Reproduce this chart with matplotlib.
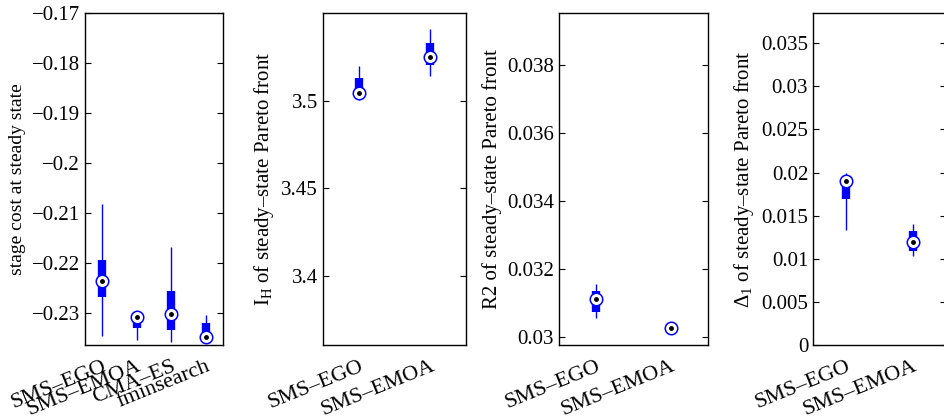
import matplotlib
matplotlib.use('Agg')
import matplotlib.pyplot as plt

plt.rcParams['font.family'] = ['Liberation Serif', 'DejaVu Serif']
plt.rcParams['mathtext.fontset'] = 'custom'
plt.rcParams['mathtext.rm'] = 'Liberation Serif'
plt.rcParams['mathtext.it'] = 'Liberation Serif:italic'
plt.rcParams['axes.unicode_minus'] = True

# each stat list: whisker low, box low, median, box high, whisker high
labels1 = ['SMS\u2013EGO', 'SMS\u2013EMOA', 'CMA\u2013ES', 'fminsearch']
stage_cost = [
    [-0.2346, -0.2269, -0.2237, -0.2195, -0.2083],
    [-0.2355, -0.2331, -0.2308, -0.2305, -0.2303],
    [-0.2359, -0.2335, -0.2302, -0.2257, -0.2168],
    [-0.2357, -0.2355, -0.2348, -0.2320, -0.2304],
]

labels2 = ['SMS\u2013EGO', 'SMS\u2013EMOA']
ih = [
    [3.5004, 3.5023, 3.5042, 3.5131, 3.5198],
    [3.5141, 3.5204, 3.5248, 3.5331, 3.5408],
]
r2 = [
    [0.030558, 0.030734, 0.031116, 0.03137, 0.031565],
    [0.03012, 0.03024, 0.030264, 0.03029, 0.03034],
]
delta1 = [
    [0.01337, 0.01696, 0.01904, 0.0188, 0.0200],
    [0.01028, 0.01086, 0.01194, 0.01325, 0.01406],
]

W, H = 944, 419
fig = plt.figure(figsize=(W / 100, H / 100), dpi=100)


def panel(x0, x1, stats, labels, ylim, yticks, yticklabels, ylabel, ylsize=15):
    ax = fig.add_axes([x0 / W, (H - 345) / H, (x1 - x0) / W, 332 / H])
    for i, s in enumerate(stats):
        p = i + 1
        ax.vlines(p, s[0], s[4], color='blue', lw=1.0, zorder=2)
        ax.vlines(p, s[1], s[3], color='blue', lw=6, zorder=3)
        ax.plot(p, s[2], 'o', ms=9, mfc='white', mec='blue', mew=1.1, zorder=4)
        ax.plot(p, s[2], 'o', ms=2.5, color='black', zorder=5)
    ax.set_xlim(0.5, len(stats) + 0.5)
    ax.set_ylim(*ylim)
    ax.set_yticks(yticks)
    ax.set_yticklabels(yticklabels)
    ax.set_xticks([])
    for i, lab in enumerate(labels):
        ax.text(i + 1, ylim[0] - (ylim[1] - ylim[0]) * 0.035, lab, rotation=22,
                ha='right', va='top', rotation_mode='anchor', fontsize=16,
                transform=ax.transData, clip_on=False)
    ax.tick_params(axis='y', direction='in', right=True, length=4, labelsize=15)
    ax.set_ylabel(ylabel, fontsize=ylsize)
    for sp in ax.spines.values():
        sp.set_linewidth(1.0)
    return ax


panel(85, 223, stage_cost, labels1, (-0.2365, -0.17),
      [-0.23, -0.22, -0.21, -0.2, -0.19, -0.18, -0.17],
      ['\u22120.23', '\u22120.22', '\u22120.21', '\u22120.2', '\u22120.19', '\u22120.18', '\u22120.17'],
      'stage cost at steady state', ylsize=14)
panel(323, 466, ih, labels2, (3.3604, 3.5501),
      [3.4, 3.45, 3.5], ['3.4', '3.45', '3.5'],
      r'$\mathrm{I_H}$ of steady' + '\u2013state Pareto front')
panel(559, 708, r2, labels2, (0.02977, 0.03953),
      [0.03, 0.032, 0.034, 0.036, 0.038], ['0.03', '0.032', '0.034', '0.036', '0.038'],
      'R2 of steady\u2013state Pareto front')
panel(813, 946, delta1, labels2, (0, 0.0385),
      [0, 0.005, 0.01, 0.015, 0.02, 0.025, 0.03, 0.035],
      ['0', '0.005', '0.01', '0.015', '0.02', '0.025', '0.03', '0.035'],
      r'$\Delta_1$ of steady' + '\u2013state Pareto front')

fig.savefig('out.png', dpi=100)
